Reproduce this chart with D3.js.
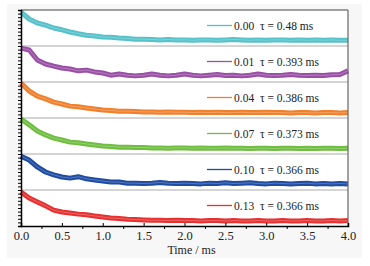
<!DOCTYPE html>
<html><head><meta charset="utf-8">
<script src="https://cdn.jsdelivr.net/npm/d3@7"></script>
<style>body{margin:0;background:#fff}svg{display:block}text{font-family:"Liberation Serif","Times New Roman",Times,"DejaVu Serif",serif}</style>
</head><body><svg id="c" width="370" height="266"></svg>
<script>
const times = d3.range(0, 41).map(i => +(i * 0.1).toFixed(1));
const concentrations = ["0.00", "0.01", "0.04", "0.07", "0.10", "0.13"];
const taus = ["0.48", "0.393", "0.386", "0.373", "0.366", "0.366"];
const colors = ["#55c2ca", "#9a4fa6", "#f0802c", "#6fbe40", "#1f4ca3", "#e63130"];
const s000 = [0.94,0.75,0.64,0.58,0.50,0.45,0.39,0.34,0.30,0.28,0.25,0.24,0.22,0.21,0.19,0.19,0.18,0.17,0.18,0.17,0.17,0.16,0.17,0.17,0.16,0.17,0.18,0.17,0.16,0.17,0.16,0.17,0.17,0.16,0.17,0.16,0.17,0.16,0.17,0.16,0.16];
const s001 = [0.94,0.89,0.61,0.50,0.44,0.39,0.36,0.31,0.33,0.28,0.25,0.19,0.22,0.19,0.17,0.19,0.22,0.19,0.17,0.19,0.22,0.19,0.17,0.19,0.21,0.18,0.19,0.17,0.19,0.22,0.19,0.18,0.19,0.21,0.19,0.18,0.19,0.18,0.20,0.21,0.31];
const s004 = [0.97,0.75,0.61,0.53,0.44,0.39,0.33,0.31,0.28,0.25,0.22,0.21,0.19,0.19,0.18,0.17,0.17,0.16,0.17,0.16,0.16,0.15,0.16,0.15,0.16,0.15,0.15,0.16,0.15,0.15,0.16,0.15,0.15,0.14,0.15,0.15,0.14,0.15,0.15,0.14,0.15];
const s007 = [0.97,0.81,0.64,0.53,0.44,0.39,0.33,0.31,0.28,0.25,0.22,0.21,0.19,0.19,0.18,0.18,0.17,0.17,0.16,0.17,0.17,0.16,0.17,0.16,0.16,0.17,0.16,0.16,0.15,0.16,0.16,0.15,0.16,0.16,0.15,0.16,0.15,0.16,0.16,0.15,0.16];
const s010 = [0.94,0.83,0.64,0.50,0.42,0.36,0.33,0.37,0.31,0.28,0.25,0.22,0.22,0.19,0.19,0.18,0.19,0.21,0.19,0.18,0.19,0.18,0.17,0.19,0.18,0.20,0.18,0.19,0.20,0.18,0.17,0.19,0.18,0.17,0.18,0.19,0.17,0.18,0.17,0.18,0.17];
const s013 = [0.94,0.78,0.67,0.56,0.44,0.39,0.36,0.33,0.31,0.28,0.25,0.22,0.21,0.19,0.18,0.17,0.16,0.16,0.15,0.16,0.15,0.15,0.14,0.15,0.15,0.14,0.15,0.14,0.14,0.15,0.14,0.14,0.15,0.14,0.14,0.15,0.14,0.14,0.15,0.14,0.15];
const seriesValues = [s000, s001, s004, s007, s010, s013];
const xTicks = [0, 0.5, 1, 1.5, 2, 2.5, 3, 3.5, 4];

const svg = d3.select("#c");
const L = 21, R = 348, T = 10, B = 226;
const nP = seriesValues.length;
const pH = (B - T) / nP;

svg.append("rect").attr("x", 7).attr("y", 4).attr("width", 355).attr("height", 254).attr("fill", "#f7f7f7");
svg.append("rect").attr("x", L).attr("y", T).attr("width", R - L).attr("height", B - T).attr("fill", "#fff");

const x = d3.scaleLinear().domain([0, 4]).range([L, R]);
const panelScale = i => d3.scaleLinear().domain([0, 1]).range([T + pH * (i + 1), T + pH * i]);

for (let i = 1; i < nP; i++) {
  svg.append("line").attr("x1", L).attr("x2", R).attr("y1", T + pH * i).attr("y2", T + pH * i)
    .attr("stroke", "#aaa").attr("stroke-width", 1);
}

const font = "'Liberation Serif','Times New Roman',Times,serif";
seriesValues.forEach((vals, i) => {
  const y = panelScale(i);
  const line = d3.line().x((d, j) => x(times[j])).y(d => y(d));
  svg.append("path").datum(vals).attr("d", line).attr("fill", "none")
    .attr("stroke", colors[i]).attr("stroke-width", 5).attr("stroke-linejoin", "round");
  svg.append("path").datum(vals).attr("d", line).attr("fill", "none")
    .attr("stroke", "#fff").attr("stroke-opacity", 0.25).attr("stroke-width", 1);
  const top = T + pH * i;
  svg.append("line").attr("x1", 207).attr("x2", 232).attr("y1", top + 15.5).attr("y2", top + 15.5)
    .attr("stroke", colors[i]).attr("stroke-width", 1.3);
  svg.append("text").attr("x", 234).attr("y", top + 19.5).style("font-family", font).attr("font-size", 11.5)
    .attr("fill", "#222").text(concentrations[i]);
  svg.append("text").attr("x", 260).attr("y", top + 19.5).style("font-family", font).attr("font-size", 11.5)
    .attr("fill", "#222").text("\u03c4 = " + taus[i] + " ms");
});

svg.append("line").attr("x1", L).attr("x2", R).attr("y1", T).attr("y2", T).attr("stroke", "#444").attr("stroke-width", 1.2);
svg.append("line").attr("x1", R).attr("x2", R).attr("y1", T).attr("y2", B).attr("stroke", "#666").attr("stroke-width", 1.2);

const yAll = d3.scaleLinear().domain([0, 60]).range([B, T]);
const yAxis = d3.axisLeft(yAll).tickValues(d3.range(0, 61)).tickSize(3).tickFormat("");
const gy = svg.append("g").attr("transform", `translate(${L},0)`).call(yAxis);
gy.select(".domain").attr("stroke", "#000").attr("stroke-width", 1.5);
gy.selectAll(".tick line").attr("stroke", "#000").attr("stroke-width", 1);

const gx = svg.append("g").attr("transform", `translate(0,${B})`)
  .call(d3.axisBottom(x).tickValues(xTicks).tickSize(-3).tickPadding(5).tickFormat(d3.format(".1f")));
gx.select(".domain").attr("stroke", "#000").attr("stroke-width", 1.5);
gx.selectAll(".tick line").attr("stroke", "#000");
gx.selectAll("text").style("font-family", font).attr("font-size", 12.5).attr("fill", "#222");
const minor = d3.range(0.25, 4, 0.5);
svg.append("g").attr("transform", `translate(0,${B})`)
  .call(d3.axisBottom(x).tickValues(minor).tickSize(3).tickFormat(""))
  .call(g => g.select(".domain").remove());

svg.append("text").attr("x", (L + R) / 2 + 7).attr("y", 254).attr("text-anchor", "middle")
  .style("font-family", font).attr("font-size", 12).attr("fill", "#222").text("Time / ms");
</script></body></html>
